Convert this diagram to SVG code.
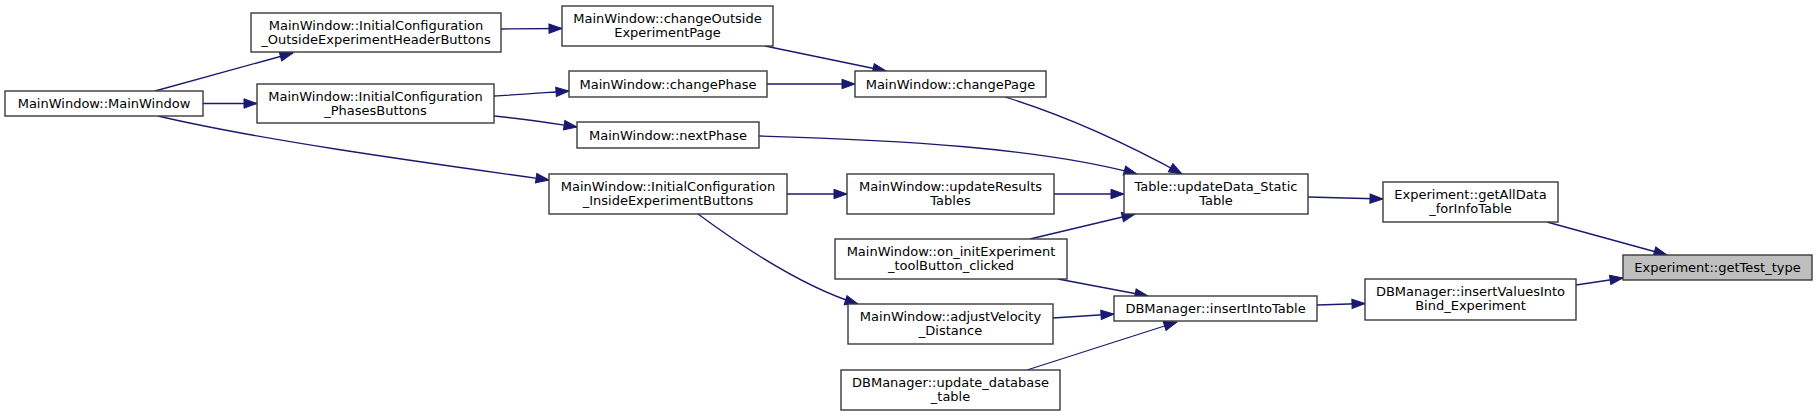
<svg xmlns="http://www.w3.org/2000/svg" width="1817" height="416" viewBox="0 0 1817 416">
<style>
.n rect{fill:#ffffff;stroke:#3a3a3a;stroke-width:1.4}
.n.hl rect{fill:#bfbfbf;stroke:#3a3a3a}
.n text{font-family:"DejaVu Sans","Liberation Sans",sans-serif;font-size:13px;fill:#000000;text-anchor:middle}
.e path{fill:none;stroke:#191970;stroke-width:1.3;marker-end:url(#ah)}
</style>
<defs>
<marker id="ah" markerUnits="userSpaceOnUse" markerWidth="14" markerHeight="10" refX="13" refY="4.7" orient="auto" overflow="visible">
<path d="M0,0 L13,4.7 L0,9.4 Z" fill="#191970" stroke="#191970" stroke-width="1"/>
</marker>
</defs>
<rect x="0" y="0" width="1817" height="416" fill="#ffffff"/>
<g id="edges" class="e">
<path d="M155,91 L293,53"/>
<path d="M203,103.5 L257,103.5"/>
<path d="M158,116 C260,140 420,162 549,180"/>
<path d="M501,29 L562,28.5"/>
<path d="M494,96 C515,95 540,93 569,91"/>
<path d="M494,116 C525,119 550,123 577,127"/>
<path d="M765,46 L886,71"/>
<path d="M767,84 L855,84"/>
<path d="M1005,97 C1060,114 1120,140 1182,174"/>
<path d="M759,136 C900,140 1040,148 1137,174"/>
<path d="M1054,194 L1124,194"/>
<path d="M1030,239 L1135,214"/>
<path d="M1058,279 L1148,296"/>
<path d="M1053,318 L1114,314"/>
<path d="M1027,370 L1177,322"/>
<path d="M787,194 L847,194"/>
<path d="M698,214 C740,245 800,286 858,304"/>
<path d="M1308,197 L1383,199"/>
<path d="M1317,305 L1365,303.5"/>
<path d="M1547,222 L1667,255"/>
<path d="M1576,285 L1623,278"/>
</g>
<g id="n_mainwindow" class="n"><rect x="5" y="91" width="198" height="25"/><text x="104" y="108">MainWindow::MainWindow</text></g>
<g id="n_outside_hdr" class="n"><rect x="251" y="13" width="250" height="39"/><text x="376" y="29.5">MainWindow::InitialConfiguration</text><text x="376" y="43.5">_OutsideExperimentHeaderButtons</text></g>
<g id="n_phases" class="n"><rect x="257" y="84" width="237" height="39"/><text x="375.5" y="100.5">MainWindow::InitialConfiguration</text><text x="375.5" y="114.5">_PhasesButtons</text></g>
<g id="n_inside" class="n"><rect x="549" y="174" width="238" height="40"/><text x="668" y="190.5">MainWindow::InitialConfiguration</text><text x="668" y="204.5">_InsideExperimentButtons</text></g>
<g id="n_changeOutside" class="n"><rect x="562" y="6" width="211" height="40"/><text x="667.5" y="22.5">MainWindow::changeOutside</text><text x="667.5" y="36.5">ExperimentPage</text></g>
<g id="n_changePhase" class="n"><rect x="569" y="71" width="198" height="26"/><text x="668" y="88.5">MainWindow::changePhase</text></g>
<g id="n_nextPhase" class="n"><rect x="577" y="122" width="182" height="26"/><text x="668" y="139.5">MainWindow::nextPhase</text></g>
<g id="n_changePage" class="n"><rect x="855" y="71" width="191" height="26"/><text x="950.5" y="88.5">MainWindow::changePage</text></g>
<g id="n_updateResults" class="n"><rect x="847" y="174" width="207" height="40"/><text x="950.5" y="190.5">MainWindow::updateResults</text><text x="950.5" y="204.5">Tables</text></g>
<g id="n_oninit" class="n"><rect x="835" y="239" width="232" height="40"/><text x="951" y="255.5">MainWindow::on_initExperiment</text><text x="951" y="269.5">_toolButton_clicked</text></g>
<g id="n_adjust" class="n"><rect x="848" y="304" width="205" height="40"/><text x="950.5" y="320.5">MainWindow::adjustVelocity</text><text x="950.5" y="334.5">_Distance</text></g>
<g id="n_update_db" class="n"><rect x="841" y="370" width="219" height="40"/><text x="950.5" y="386.5">DBManager::update_database</text><text x="950.5" y="400.5">_table</text></g>
<g id="n_table" class="n"><rect x="1124" y="174" width="184" height="40"/><text x="1216" y="190.5">Table::updateData_Static</text><text x="1216" y="204.5">Table</text></g>
<g id="n_insertInto" class="n"><rect x="1114" y="296" width="203" height="25"/><text x="1215.5" y="313">DBManager::insertIntoTable</text></g>
<g id="n_getAll" class="n"><rect x="1383" y="182" width="175" height="40"/><text x="1470.5" y="198.5">Experiment::getAllData</text><text x="1470.5" y="212.5">_forInfoTable</text></g>
<g id="n_insertValues" class="n"><rect x="1365" y="279" width="211" height="41"/><text x="1470.5" y="295.5">DBManager::insertValuesInto</text><text x="1470.5" y="309.5">Bind_Experiment</text></g>
<g id="n_getTest" class="n hl"><rect x="1623" y="255" width="189" height="25"/><text x="1717.5" y="272">Experiment::getTest_type</text></g>
</svg>
